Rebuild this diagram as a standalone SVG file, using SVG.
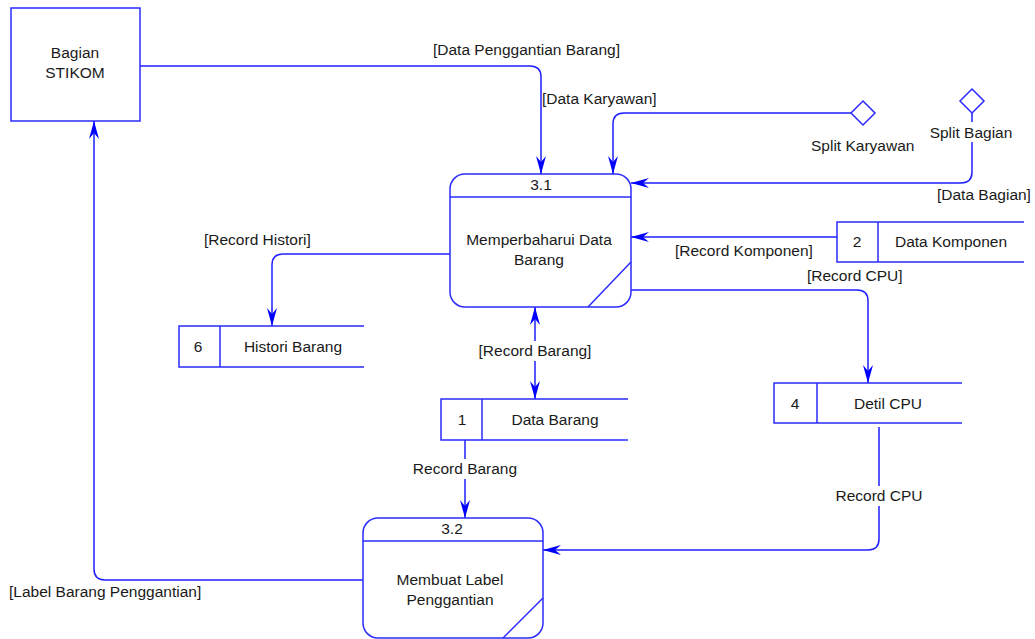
<svg xmlns="http://www.w3.org/2000/svg" width="1035" height="639" viewBox="0 0 1035 639">
  <style>
    text { font-family: "Liberation Sans", Arial, sans-serif; font-size: 15.5px; fill: #1a1a1a; }
    .mid { text-anchor: middle; }
    .shape { fill: #ffffff; stroke: #2b2bff; stroke-width: 1.5; }
    .edge { fill: none; stroke: #2b2bff; stroke-width: 1.5; }
    .flow { fill: none; stroke: #1f1fff; stroke-width: 1.5; }
    .bg { fill: #ffffff; stroke: none; }
  </style>
  <defs>
    <marker id="arrow" viewBox="-20 -6 22 12" refX="0" refY="0" markerWidth="22" markerHeight="12" markerUnits="userSpaceOnUse" orient="auto">
      <path d="M0,0 L-18,-5 L-12,0 L-18,5 Z" fill="#0000ff"/>
    </marker>
    <marker id="arrowStart" viewBox="-2 -6 22 12" refX="0" refY="0" markerWidth="22" markerHeight="12" markerUnits="userSpaceOnUse" orient="auto">
      <path d="M0,0 L18,-5 L12,0 L18,5 Z" fill="#0000ff"/>
    </marker>
  </defs>
  <rect width="1035" height="639" fill="#ffffff"/>

  <!-- connectors -->
  <g id="connectors">
    <path class="flow" d="M140,66 H530 Q541,66 541,77 V174" marker-end="url(#arrow)"/>
    <path class="flow" d="M851,113 H624 Q613,113 613,124 V174" marker-end="url(#arrow)"/>
    <path class="flow" d="M972,113 V172 Q972,183 961,183 H631" marker-end="url(#arrow)"/>
    <path class="flow" d="M837,237 H631" marker-end="url(#arrow)"/>
    <path class="flow" d="M631,290 H857 Q868,290 868,301 V383" marker-end="url(#arrow)"/>
    <path class="flow" d="M450,254 H283 Q272,254 272,265 V326" marker-end="url(#arrow)"/>
    <path class="flow" d="M535,307 V399" marker-start="url(#arrowStart)" marker-end="url(#arrow)"/>
    <path class="flow" d="M465,440 V518" marker-end="url(#arrow)"/>
    <path class="flow" d="M879,427 V539 Q879,550 868,550 H543" marker-end="url(#arrow)"/>
    <path class="flow" d="M363,580 H105 Q94,580 94,569 V121" marker-end="url(#arrow)"/>

    <!-- flow labels -->
    <text x="433" y="55">[Data Penggantian Barang]</text>
    <text x="542" y="104">[Data Karyawan]</text>
    <text x="937" y="200">[Data Bagian]</text>
    <text x="675" y="256">[Record Komponen]</text>
    <text x="807" y="281">[Record CPU]</text>
    <text x="204" y="245">[Record Histori]</text>
    <rect class="bg" x="476" y="341" width="118" height="20"/>
    <text class="mid" x="535" y="356">[Record Barang]</text>
    <rect class="bg" x="410" y="459" width="110" height="20"/>
    <text class="mid" x="465" y="474">Record Barang</text>
    <rect class="bg" x="834" y="486" width="92" height="20"/>
    <text class="mid" x="879" y="501">Record CPU</text>
    <text x="9" y="597">[Label Barang Penggantian]</text>
  </g>

  <!-- external entity -->
  <g id="bagian-stikom">
    <rect class="shape" x="11" y="8" width="129" height="113"/>
    <text class="mid" x="75" y="58">Bagian</text>
    <text class="mid" x="75" y="78">STIKOM</text>
  </g>

  <!-- splits -->
  <g id="split-karyawan">
    <path class="shape" d="M863,101 L875,113 L863,125 L851,113 Z"/>
    <text x="811" y="151">Split Karyawan</text>
  </g>
  <g id="split-bagian">
    <path class="shape" d="M972,89 L984,101 L972,113 L960,101 Z"/>
    <rect class="bg" x="926" y="122" width="92" height="20"/>
    <text class="mid" x="971" y="138">Split Bagian</text>
  </g>

  <!-- process 3.1 -->
  <g id="proc-3-1">
    <rect class="shape" x="450" y="174" width="181" height="133" rx="15" ry="15"/>
    <line class="edge" x1="450" y1="197" x2="631" y2="197"/>
    <line class="edge" x1="631" y1="262" x2="588" y2="307"/>
    <text class="mid" x="541" y="190">3.1</text>
    <text class="mid" x="539" y="245">Memperbaharui Data</text>
    <text class="mid" x="539" y="265">Barang</text>
  </g>

  <!-- process 3.2 -->
  <g id="proc-3-2">
    <rect class="shape" x="363" y="518" width="180" height="120" rx="15" ry="15"/>
    <line class="edge" x1="363" y1="541" x2="543" y2="541"/>
    <line class="edge" x1="543" y1="598" x2="503" y2="638"/>
    <text class="mid" x="452" y="534">3.2</text>
    <text class="mid" x="450" y="585">Membuat Label</text>
    <text class="mid" x="450" y="605">Penggantian</text>
  </g>

  <!-- data stores -->
  <g id="store-2">
    <path class="edge" d="M1024,222 H837 V262 H1024 M878,222 V262"/>
    <text class="mid" x="857" y="247">2</text>
    <text class="mid" x="951" y="247">Data Komponen</text>
  </g>
  <g id="store-4">
    <path class="edge" d="M962,383 H774 V423 H962 M817,383 V423"/>
    <text class="mid" x="795" y="409">4</text>
    <text class="mid" x="888" y="409">Detil CPU</text>
  </g>
  <g id="store-1">
    <path class="edge" d="M628,399 H441 V440 H628 M482,399 V440"/>
    <text class="mid" x="462" y="425">1</text>
    <text class="mid" x="555" y="425">Data Barang</text>
  </g>
  <g id="store-6">
    <path class="edge" d="M364,326 H179 V367 H364 M220,326 V367"/>
    <text class="mid" x="198" y="352">6</text>
    <text class="mid" x="293" y="352">Histori Barang</text>
  </g>
</svg>
